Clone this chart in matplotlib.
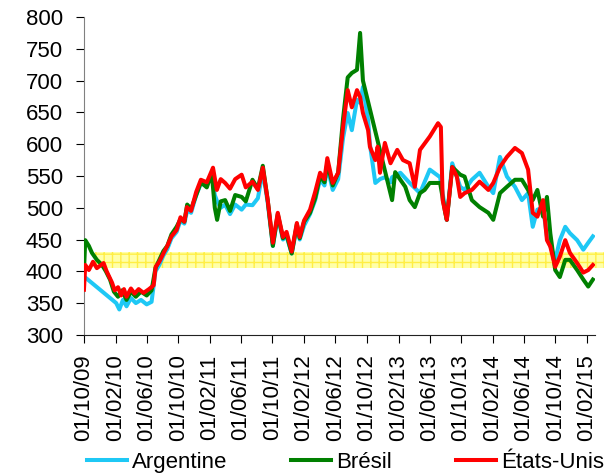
import pandas as pd
import matplotlib
matplotlib.use("Agg")
import matplotlib.pyplot as plt
import matplotlib.dates as mdates

plt.rcParams['font.family'] = ['Liberation Sans', 'DejaVu Sans']

# values (approximate)
usa_dates = ["2009-10-01", "2009-10-06", "2009-10-20", "2009-11-05", "2009-11-20", "2009-12-16", "2009-12-28",
             "2010-01-18", "2010-01-28", "2010-02-10", "2010-02-22", "2010-03-05", "2010-03-15", "2010-04-01",
             "2010-04-15", "2010-05-01", "2010-05-20", "2010-06-10", "2010-06-28", "2010-07-06", "2010-07-20",
             "2010-08-06", "2010-08-20", "2010-09-05", "2010-09-25", "2010-10-10", "2010-10-25", "2010-11-04",
             "2010-11-20", "2010-12-10", "2010-12-28", "2011-01-20", "2011-02-09", "2011-02-13", "2011-02-28",
             "2011-03-15", "2011-04-01", "2011-04-20", "2011-05-10", "2011-06-04", "2011-06-20", "2011-07-16",
             "2011-08-06", "2011-08-25", "2011-09-13", "2011-10-03", "2011-10-22", "2011-11-11", "2011-11-25",
             "2011-12-15", "2012-01-04", "2012-01-15", "2012-02-01", "2012-02-24", "2012-03-15", "2012-04-03",
             "2012-04-20", "2012-05-01", "2012-05-22", "2012-06-12", "2012-07-01", "2012-07-19", "2012-08-04",
             "2012-08-24", "2012-09-05", "2012-09-16", "2012-10-06", "2012-10-13", "2012-11-03", "2012-11-12",
             "2012-11-21", "2012-12-10", "2013-01-01", "2013-01-27", "2013-02-18", "2013-03-16", "2013-04-05",
             "2013-04-25", "2013-06-02", "2013-07-04", "2013-07-15", "2013-07-22", "2013-08-07", "2013-08-28",
             "2013-09-15", "2013-09-28", "2013-10-15", "2013-11-12", "2013-12-12", "2014-01-15", "2014-02-03",
             "2014-03-01", "2014-03-28", "2014-04-28", "2014-05-25", "2014-06-18", "2014-07-06", "2014-07-24",
             "2014-08-15", "2014-08-30", "2014-09-12", "2014-10-01", "2014-10-19", "2014-11-09", "2014-11-27",
             "2014-12-25", "2015-01-18", "2015-02-06", "2015-02-24"]
usa_values = [371, 410, 402, 415, 405, 413, 400,
              382, 370, 375, 362, 372, 360, 373,
              365, 372, 366, 372, 378, 407, 415,
              429, 440, 455, 465, 485, 478, 501,
              495, 525, 544, 540, 559, 563, 528,
              545, 539, 530, 545, 552, 532, 541,
              528, 563, 512, 445, 492, 454, 462,
              431, 476, 454, 480, 497, 525, 555,
              545, 578, 539, 555, 627, 685, 658,
              685, 674, 649, 622, 596, 575, 596,
              555, 602, 570, 591, 575, 570, 533,
              591, 612, 633, 627, 512, 481, 564,
              549, 517, 523, 528, 541, 528, 539,
              564, 580, 594, 586, 560, 492, 486,
              512, 449, 439, 407, 423, 449, 429,
              413, 398, 402, 410]

bre_dates = ["2009-10-01", "2009-10-06", "2009-10-20", "2009-11-01", "2009-11-20", "2009-12-10", "2009-12-25",
             "2010-01-10", "2010-01-25", "2010-02-10", "2010-02-25", "2010-03-15", "2010-04-01", "2010-04-20",
             "2010-05-10", "2010-06-01", "2010-06-20", "2010-07-05", "2010-07-20", "2010-08-05", "2010-08-20",
             "2010-09-05", "2010-09-25", "2010-10-10", "2010-10-25", "2010-11-05", "2010-11-20", "2010-12-10",
             "2010-12-28", "2011-01-20", "2011-02-08", "2011-02-20", "2011-03-01", "2011-03-15", "2011-04-01",
             "2011-04-20", "2011-05-10", "2011-06-04", "2011-06-20", "2011-07-16", "2011-08-06", "2011-08-25",
             "2011-09-13", "2011-10-03", "2011-10-22", "2011-11-11", "2011-11-25", "2011-12-15", "2012-01-04",
             "2012-01-15", "2012-02-01", "2012-02-24", "2012-03-15", "2012-04-03", "2012-04-20", "2012-05-01",
             "2012-05-22", "2012-06-12", "2012-07-01", "2012-07-19", "2012-08-04", "2012-08-24", "2012-09-05",
             "2012-09-16", "2013-01-07", "2013-01-19", "2013-02-08", "2013-02-27", "2013-03-16", "2013-04-05",
             "2013-04-25", "2013-05-13", "2013-06-02", "2013-07-12", "2013-08-01", "2013-08-07", "2013-08-28",
             "2013-09-28", "2013-10-15", "2013-11-12", "2013-12-12", "2014-01-15", "2014-02-03", "2014-03-01",
             "2014-03-28", "2014-04-28", "2014-05-25", "2014-06-18", "2014-07-06", "2014-07-24", "2014-08-15",
             "2014-08-30", "2014-09-12", "2014-10-01", "2014-10-19", "2014-11-09", "2014-11-27", "2014-12-25",
             "2015-01-18", "2015-02-06", "2015-02-24"]
bre_values = [400, 449, 440, 429, 418, 410, 400,
              387, 368, 360, 370, 355, 368, 360,
              368, 362, 370, 405, 418, 432, 440,
              458, 470, 482, 478, 505, 498, 520,
              540, 532, 555, 500, 481, 510, 512,
              495, 520, 517, 510, 544, 530, 566,
              512, 440, 490, 452, 458, 428, 474,
              452, 478, 492, 515, 550, 540, 570,
              535, 555, 640, 705, 712, 717, 775,
              700, 512, 556, 544, 533, 512, 501,
              523, 528, 539, 539, 492, 481, 564,
              552, 549, 512, 501, 492, 481, 523,
              533, 544, 544, 528, 512, 528, 486,
              517, 460, 402, 391, 418, 418, 402,
              387, 376, 387]

arg_dates = ["2009-10-01", "2010-02-03", "2010-02-15", "2010-03-01", "2010-03-15", "2010-04-01", "2010-04-20",
             "2010-05-10", "2010-06-01", "2010-06-20", "2010-07-05", "2010-07-20", "2010-08-05", "2010-08-20",
             "2010-09-05", "2010-09-25", "2010-10-10", "2010-10-25", "2010-11-05", "2010-11-20", "2010-12-10",
             "2010-12-28", "2011-01-20", "2011-02-08", "2011-02-20", "2011-03-01", "2011-03-15", "2011-04-01",
             "2011-04-20", "2011-05-10", "2011-06-04", "2011-06-20", "2011-07-16", "2011-08-06", "2011-08-25",
             "2011-09-13", "2011-10-03", "2011-10-22", "2011-11-11", "2011-11-25", "2011-12-15", "2012-01-04",
             "2012-01-15", "2012-02-01", "2012-02-24", "2012-03-15", "2012-04-03", "2012-04-20", "2012-05-01",
             "2012-05-22", "2012-06-12", "2012-07-01", "2012-07-19", "2012-08-04", "2012-08-24", "2012-09-05",
             "2012-09-16", "2012-10-06", "2012-10-13", "2012-11-03", "2012-11-21", "2012-12-10", "2013-01-01",
             "2013-01-07", "2013-02-08", "2013-03-16", "2013-04-25", "2013-06-02", "2013-07-12", "2013-08-01",
             "2013-08-07", "2013-08-28", "2013-09-28", "2013-10-15", "2013-11-12", "2013-12-12", "2014-01-15",
             "2014-02-03", "2014-03-01", "2014-03-28", "2014-04-28", "2014-05-25", "2014-06-18", "2014-07-06",
             "2014-07-24", "2014-08-15", "2014-08-30", "2014-09-12", "2014-10-01", "2014-10-19", "2014-11-09",
             "2014-11-27", "2014-12-25", "2015-01-18", "2015-02-06", "2015-02-24"]
arg_values = [392, 350, 340, 355, 345, 358, 350,
              355, 348, 352, 400, 410, 425, 435,
              452, 462, 480, 475, 496, 492, 520,
              538, 535, 555, 520, 510, 500, 505,
              490, 505, 497, 505, 504, 515, 558,
              508, 440, 486, 450, 455, 428, 470,
              450, 472, 490, 512, 545, 535, 565,
              528, 545, 610, 649, 622, 670, 665,
              690, 638, 600, 539, 545, 548, 540,
              548, 555, 539, 523, 560, 548, 497,
              481, 570, 533, 528, 544, 555, 533,
              523, 580, 549, 533, 512, 523, 470,
              497, 500, 455, 440, 418, 449, 470,
              460, 449, 434, 445, 455]

tick_dates = pd.date_range("2009-10-01", "2015-02-01", freq="4MS")
band_low, band_high = 405, 430
band_start, band_end = "2009-11-12", "2015-04-07"

fig = plt.figure(figsize=(6.04, 4.73), dpi=100)
ax = fig.add_axes([0.139, 0.292, 0.846, 0.672])

# yellow band
bx = pd.to_datetime([band_start, band_end])
ax.fill_between(bx, band_low, band_high, facecolor='#ffffa8', edgecolor='#ffee44',
                hatch='++', linewidth=0, zorder=1, clip_on=False)

ax.plot(pd.to_datetime(arg_dates), arg_values, color='#1ec8f5', lw=2.9, label='Argentine', zorder=2)
ax.plot(pd.to_datetime(bre_dates), bre_values, color='#008000', lw=2.9, label='Brésil', zorder=3)
ax.plot(pd.to_datetime(usa_dates), usa_values, color='#ff0000', lw=2.9, label='États-Unis', zorder=4)

ax.set_ylim(300, 800)
ax.set_yticks(range(300, 801, 50))
ax.set_xlim(pd.Timestamp("2009-10-01"), pd.Timestamp("2015-03-04"))
ax.set_xticks(tick_dates)
ax.xaxis.set_major_formatter(mdates.DateFormatter('%d/%m/%y'))
ax.tick_params(axis='x', labelsize=16, length=6, pad=8)
ax.tick_params(axis='y', labelsize=16, length=6, pad=9)
for lab in ax.get_xticklabels():
    lab.set_rotation(90)

ax.spines['top'].set_visible(False)
ax.spines['right'].set_visible(False)
ax.spines['left'].set_color('#808080')
ax.spines['bottom'].set_color('#222222')

fig.legend(loc='center', bbox_to_anchor=(0.572, 0.022), ncol=3, frameon=False,
           fontsize=16, handlelength=1.8, handletextpad=0.25, columnspacing=2.85,
           borderaxespad=0)

fig.savefig('out.png', dpi=100)
